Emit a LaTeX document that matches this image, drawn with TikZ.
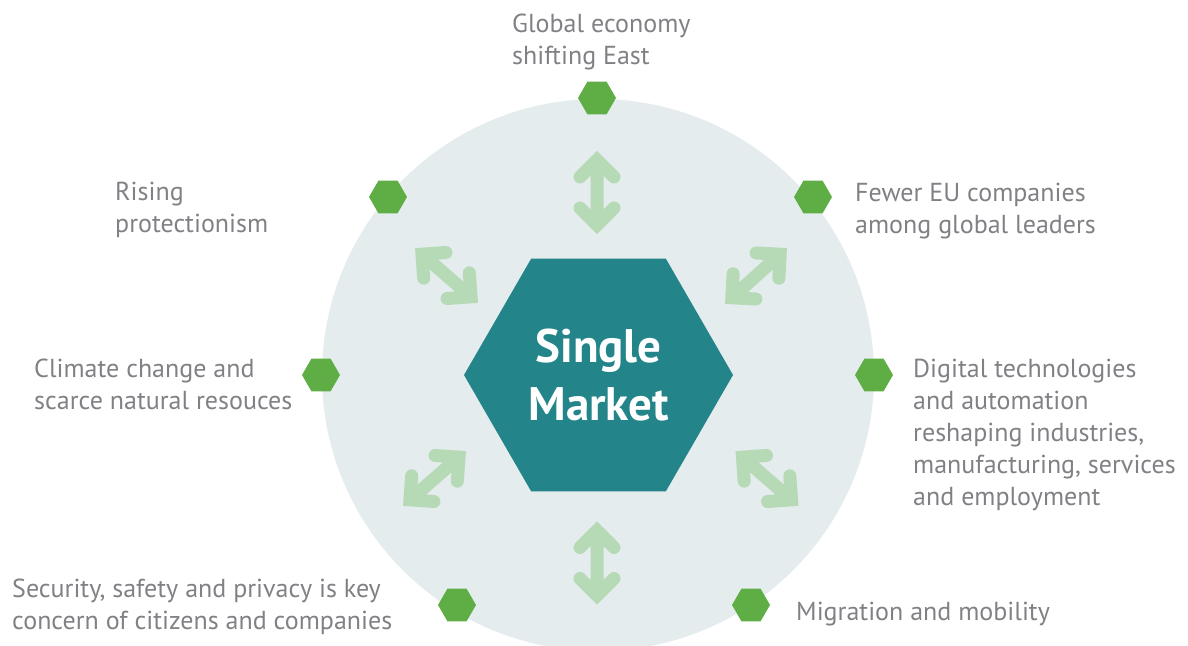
\documentclass[tikz,border=0pt]{standalone}
\usepackage{fontspec}
\setmainfont{PT Sans}
\usetikzlibrary{shapes.geometric}
\definecolor{discbg}{HTML}{E4ECEE}
\definecolor{hubteal}{HTML}{23848A}
\definecolor{leafgreen}{HTML}{5FAE45}
\definecolor{palegreen}{HTML}{B6D9B6}
\definecolor{trendgray}{HTML}{808185}
\tikzset{
  hexa/.style={regular polygon, regular polygon sides=6, inner sep=0pt},
  dot/.style={hexa, fill=leafgreen, minimum size=38pt},
  trend/.style={anchor=base west, align=left, inner sep=0pt, text=trendgray, font=\fontsize{26}{32}\selectfont},
  twoway/.style={draw=palegreen, line width=13pt, line cap=round, line join=miter}
}
\begin{document}
\begin{tikzpicture}[x=1pt, y=1pt]
	\def\r{276} \def\h{32.5}
	\clip (0,0) rectangle (1188,645);
	\fill[discbg] (598,270) circle (\r);
	\node[hexa, fill=hubteal, minimum size=269pt, text=white, align=center,
		font=\fontsize{47}{58}\selectfont\bfseries] (hub) at (598.5,270) {Single\\Market};
	% small hexagons on the rim
	\foreach \n/\x/\y in {east/597/547, prot/388/448, lead/813/448, clim/321/270,
		digi/874/270, secu/457/40, migr/751/40}{
		\node[dot] (h-\n) at (\x,\y) {};}
	% two-way arrows round the hub
	\foreach \x/\y/\a in {597/452.5/90, 597/82/90, 446.5/369.5/139, 756/369/42,
		434.5/166.5/41, 767/166.5/139}{
		\begin{scope}[shift={(\x,\y)}, rotate=\a]
			\draw[twoway] (-\h,0)--(\h,0) (\h-17,17)--(\h,0)--(\h-17,-17)
				(-\h+17,17)--(-\h,0)--(-\h+17,-17);
		\end{scope}}
	% trend labels (placed at the baseline of their last line)
	\node[trend] (t-east) at (512,580) {Global economy\\shifting East};
	\node[trend] (t-prot) at (115,412) {Rising\\protectionism};
	\node[trend] (t-lead) at (855,411) {Fewer EU companies\\among global leaders};
	\node[trend] (t-clim) at (34,235) {Climate change and\\scarce natural resouces};
	\node[trend] (t-digi) at (913,139) {Digital technologies\\and automation\\reshaping industries,\\manufacturing, services\\and employment};
	\node[trend] (t-secu) at (12,16) {Security, safety and privacy is key\\concern of citizens and companies};
	\node[trend] (t-migr) at (796,25) {Migration and mobility};
\end{tikzpicture}
\end{document}
